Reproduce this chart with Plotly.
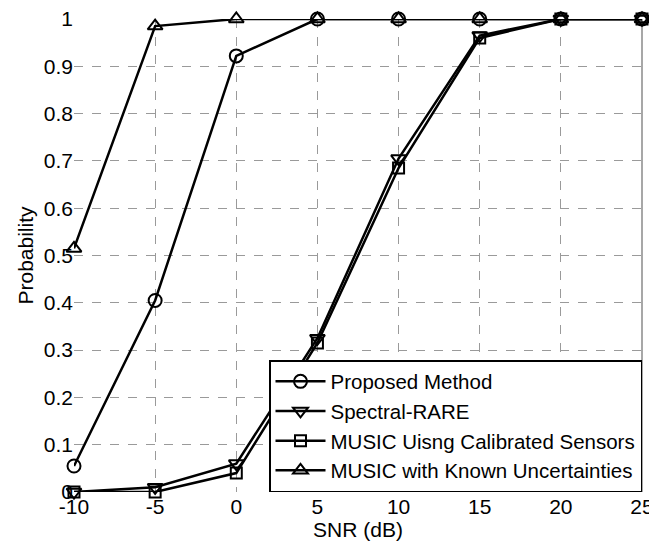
import plotly.graph_objects as go

snr = [-10, -5, 0, 5, 10, 15, 20, 25]
proposed = [0.055, 0.405, 0.922, 1, 1, 1, 1, 1]
spectral_rare = [0.0, 0.01, 0.06, 0.325, 0.705, 0.965, 1, 1]
music_calibrated = [0.0, 0.0, 0.04, 0.315, 0.685, 0.96, 1, 1]
music_known = [0.515, 0.985, 1, 1, 1, 1, 1, 1]

names = ["Proposed Method", "Spectral-RARE", "MUSIC Uisng Calibrated Sensors",
         "MUSIC with Known Uncertainties"]
series = [proposed, spectral_rare, music_calibrated, music_known]
symbols = ["circle-open", "triangle-down-open", "square-open", "triangle-up-open"]
sizes = [13, 13, 11, 13]

fig = go.Figure()
for name, ys, sym, sz in zip(names, series, symbols, sizes):
    fig.add_trace(go.Scatter(
        x=snr, y=ys, name=name, mode="lines+markers",
        line=dict(color="black", width=2.5),
        marker=dict(symbol=sym, size=sz, color="black", line=dict(width=2, color="black")),
        cliponaxis=False,
    ))

# page body has an 8px margin, so the figure is sized to fit the 657x544 window
fig.update_layout(
    width=649, height=536,
    margin=dict(l=66, r=15, t=11, b=52, autoexpand=False),
    plot_bgcolor="white", paper_bgcolor="white",
    font=dict(family="Liberation Sans, Arial, sans-serif", size=21, color="black"),
    showlegend=True,
    legend=dict(
        x=1.0, y=0, xanchor="right", yanchor="bottom",
        bgcolor="white", bordercolor="black", borderwidth=1.5,
        font=dict(size=20.5), tracegroupgap=0, itemwidth=50,
    ),
)
fig.update_xaxes(
    range=[-10, 25], tickvals=snr, ticktext=[str(v) for v in snr],
    showgrid=True, gridcolor="#9a9a9a", griddash="dash", gridwidth=1,
    zeroline=False, showline=False, ticks="", ticklen=0, automargin=False,
    ticklabeloverflow="allow",
    title=dict(text="SNR (dB)", standoff=1, font=dict(size=21)),
)
fig.update_yaxes(
    range=[0, 1], tickvals=[i / 10 for i in range(11)],
    ticktext=["0", "0.1", "0.2", "0.3", "0.4", "0.5", "0.6", "0.7", "0.8", "0.9", "1"],
    showgrid=True, gridcolor="#9a9a9a", griddash="dash", gridwidth=1,
    zeroline=False, showline=False, ticks="", automargin=False,
    ticklabeloverflow="allow",
    title=dict(text="Probability", standoff=4, font=dict(size=21)),
)
fig.add_shape(type="line", xref="paper", yref="paper", x0=1, x1=1, y0=0, y1=1,
              line=dict(color="#8a8a8a", width=1.5), layer="below")

fig.write_html("out.html")
